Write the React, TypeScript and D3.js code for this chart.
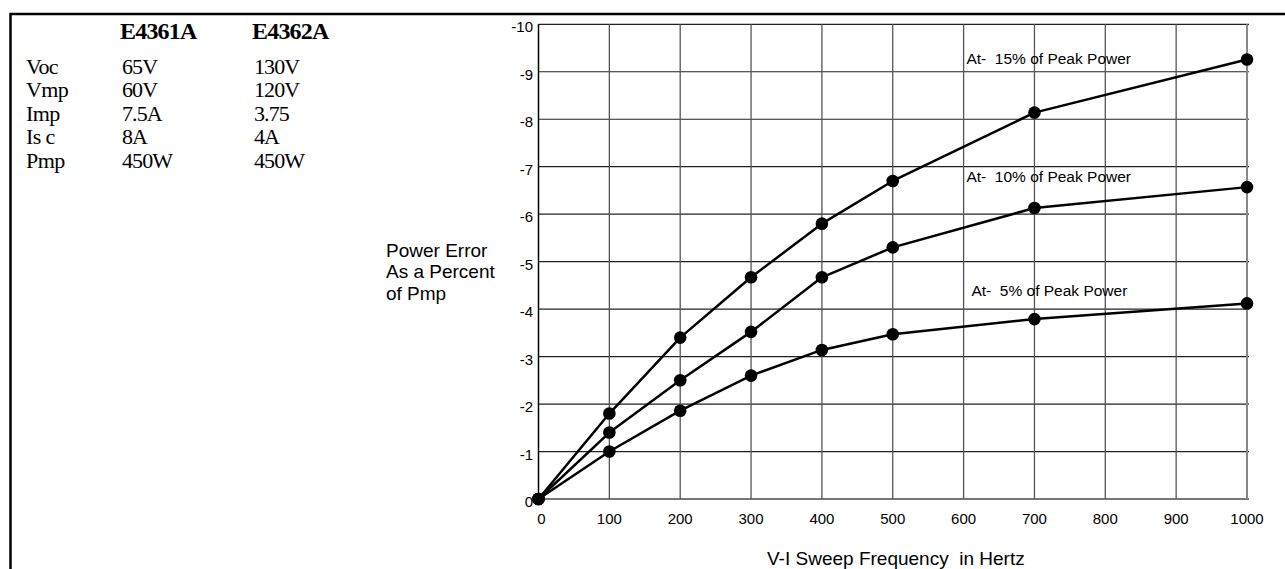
import React from "react";
import * as d3 from "d3";

// ---- Data ----
const freqs = [0, 100, 200, 300, 400, 500, 700, 1000];
const peak15 = [0, -1.8, -3.4, -4.67, -5.8, -6.7, -8.14, -9.26];
const peak10 = [0, -1.4, -2.5, -3.52, -4.67, -5.3, -6.13, -6.57];
const peak5 = [0, -1.0, -1.86, -2.6, -3.14, -3.47, -3.79, -4.12];

const seriesNames = ["At-  15% of Peak Power", "At-  10% of Peak Power", "At-  5% of Peak Power"];
const labelAnchors = [
  { f: 604, v: -9.16 },
  { f: 604, v: -6.68 },
  { f: 611, v: -4.28 },
];

const xTicks = [0, 100, 200, 300, 400, 500, 600, 700, 800, 900, 1000];
const yTicks = [0, -1, -2, -3, -4, -5, -6, -7, -8, -9, -10];

const tableHeaders = ["E4361A", "E4362A"];
const tableRowLabels = ["Voc", "Vmp", "Imp", "Isc", "Pmp"];
const tableCol1 = ["65V", "60V", "7.5A", "8A", "450W"];
const tableCol2 = ["130V", "120V", "3.75", "4A", "450W"];

const yTitleLines = ["Power Error", "As a Percent", "of Pmp"];
const xTitle = "V-I Sweep Frequency  in Hertz";

const W = 1285;
const H = 569;
const SANS = "'Liberation Sans', Arial, Helvetica, sans-serif";
const SERIF = "'Liberation Serif', 'Times New Roman', serif";

export default function App() {
  const x = d3.scaleLinear().domain([0, 1000]).range([538.5, 1247]);
  const y = d3.scaleLinear().domain([0, -10]).range([499, 24.3]);
  const series = [peak15, peak10, peak5];
  const line = d3
    .line<number>()
    .x((_, i) => x(freqs[i]))
    .y((d) => y(d));

  const rowY = (i: number) => 73.5 + 23.5 * i;

  return (
    <svg
      width={W}
      height={H}
      style={{ position: "absolute", left: 0, top: 0, background: "#fff" }}
    >
      <rect x={0} y={0} width={W} height={H} fill="#fff" />
      {/* frame */}
      <line x1={10} x2={W} y1={14} y2={14} stroke="#000" strokeWidth={2.5} />
      <line x1={10.5} x2={10.5} y1={13} y2={H} stroke="#000" strokeWidth={2.5} />

      {/* table */}
      <g fontFamily={SERIF} fill="#000">
        {tableHeaders.map((h, j) => (
          <text key={h} x={j === 0 ? 120 : 252} y={38.5} fontSize={24} fontWeight="bold" letterSpacing={-0.8}>
            {h}
          </text>
        ))}
        {tableRowLabels.map((r, i) => (
          <text key={r} x={26} y={rowY(i)} fontSize={22} letterSpacing={-0.6} style={{ whiteSpace: "pre" }}>
            {r === "Isc" ? "Is c" : r}
          </text>
        ))}
        {tableCol1.map((v, i) => (
          <text key={"a" + i} x={122} y={rowY(i)} fontSize={22} letterSpacing={-0.9}>
            {v}
          </text>
        ))}
        {tableCol2.map((v, i) => (
          <text key={"b" + i} x={254} y={rowY(i)} fontSize={22} letterSpacing={-0.9}>
            {v}
          </text>
        ))}
      </g>

      {/* grid */}
      <g>
        {yTicks.map((t) => (
          <line
            key={"h" + t}
            x1={x(0)}
            x2={x(1000) + 2}
            y1={y(t)}
            y2={y(t)}
            stroke={t === 0 ? "#777" : "#222"}
            strokeWidth={t === 0 ? 2 : 1.2}
          />
        ))}
        {xTicks.map((t) => (
          <line
            key={"v" + t}
            x1={x(t)}
            x2={x(t)}
            y1={y(-10)}
            y2={y(0)}
            stroke={t === 0 ? "#000" : t === 1000 ? "#888" : "#555"}
            strokeWidth={t === 0 ? 1.5 : t === 1000 ? 2 : 1.3}
          />
        ))}
      </g>

      {/* tick labels */}
      <g fontFamily={SANS} fontSize={15} fill="#000">
        {yTicks.map((t) => (
          <text key={"yl" + t} x={533} y={y(t) + 8} textAnchor="end">
            {String(t)}
          </text>
        ))}
        {xTicks.map((t) => (
          <text key={"xl" + t} x={x(t) + (t === 0 ? 3 : 0)} y={523.5} textAnchor="middle">
            {String(t)}
          </text>
        ))}
      </g>

      {/* axis titles */}
      <g fontFamily={SANS} fontSize={19} fill="#000">
        {yTitleLines.map((l, i) => (
          <text key={l} x={386} y={256.7 + 21.7 * i}>
            {l}
          </text>
        ))}
        <text x={767} y={565} style={{ whiteSpace: "pre" }}>
          {xTitle}
        </text>
      </g>

      {/* series */}
      <g>
        {series.map((s, k) => (
          <g key={k}>
            <path d={line(s) || ""} fill="none" stroke="#000" strokeWidth={2.5} strokeLinejoin="round" />
            {s.map((v, i) => (
              <circle key={i} cx={x(freqs[i])} cy={y(v)} r={6.3} fill="#000" />
            ))}
          </g>
        ))}
      </g>

      {/* series labels */}
      <g fontFamily={SANS} fontSize={15.5} fill="#000">
        {seriesNames.map((n, k) => (
          <text key={n} x={x(labelAnchors[k].f)} y={y(labelAnchors[k].v)} style={{ whiteSpace: "pre" }}>
            {n}
          </text>
        ))}
      </g>
    </svg>
  );
}
